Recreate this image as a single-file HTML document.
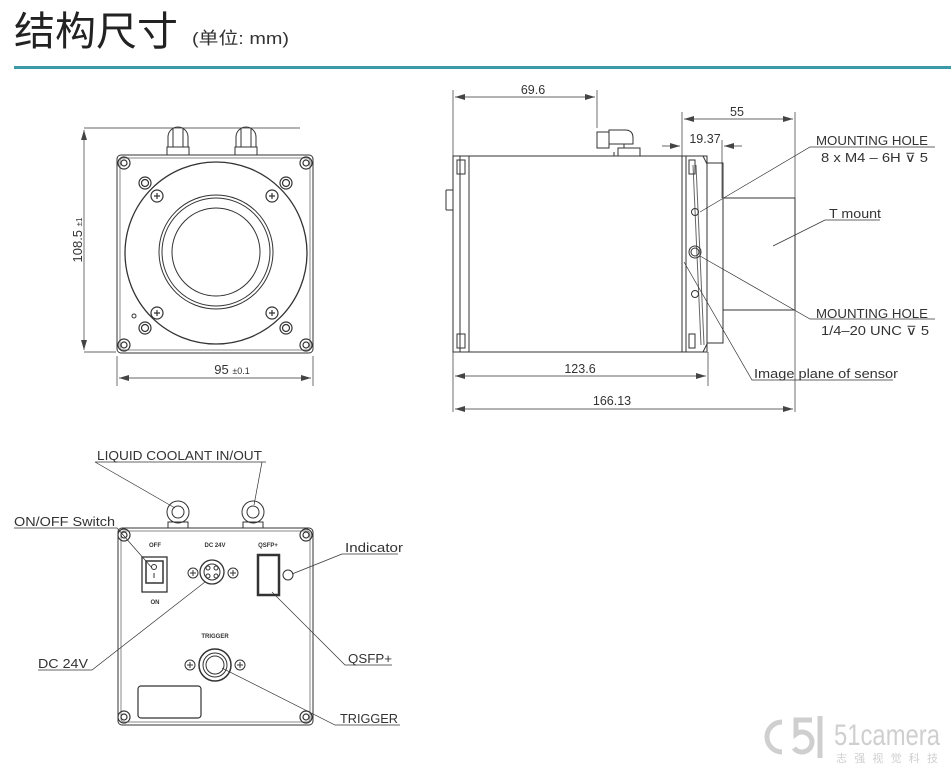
<!DOCTYPE html>
<html><head><meta charset="utf-8"><style>
body{margin:0;background:#fff;width:951px;height:773px;overflow:hidden}
svg{position:absolute;left:0;top:0}
text{font-family:"Liberation Sans","Noto Sans CJK SC",sans-serif;fill:#333}
</style></head><body>
<svg width="951" height="773" viewBox="0 0 951 773" xmlns="http://www.w3.org/2000/svg">
<defs>
<marker id="a" markerWidth="10" markerHeight="6" refX="10" refY="3" orient="auto-start-reverse" markerUnits="userSpaceOnUse"><path d="M0,0 L10,3 L0,6 z" fill="#444"/></marker>
</defs>
<text x="14" y="45" font-size="40" textLength="164" lengthAdjust="spacingAndGlyphs" style="fill:#222">结构尺寸</text>
<text x="192" y="44" font-size="17" textLength="97" lengthAdjust="spacingAndGlyphs">(单位: mm)</text>
<rect x="14" y="66" width="937" height="3" fill="#3a9aa5"/>

<g fill="none" stroke="#333" stroke-width="1">
<!-- FRONT VIEW -->
<rect x="117" y="155" width="196" height="198" rx="4"/>
<rect x="120" y="158" width="190" height="192" rx="3" stroke="#888"/>
<circle cx="216" cy="253" r="91" stroke-width="1.3"/>
<circle cx="216" cy="252" r="57"/>
<circle cx="216" cy="252" r="54"/>
<circle cx="216" cy="252" r="44"/>
<g stroke-width="1.2">
<circle cx="124" cy="163" r="6"/><circle cx="124" cy="163" r="3"/>
<circle cx="306" cy="163" r="6"/><circle cx="306" cy="163" r="3"/>
<circle cx="124" cy="345" r="6"/><circle cx="124" cy="345" r="3"/>
<circle cx="306" cy="345" r="6"/><circle cx="306" cy="345" r="3"/>
<circle cx="145" cy="183" r="6"/><circle cx="145" cy="183" r="3.5"/>
<circle cx="286" cy="183" r="6"/><circle cx="286" cy="183" r="3.5"/>
<circle cx="145" cy="328" r="6"/><circle cx="145" cy="328" r="3.5"/>
<circle cx="286" cy="328" r="6"/><circle cx="286" cy="328" r="3.5"/>
<circle cx="157" cy="196" r="6"/><path d="M154,196h6M157,193v6"/>
<circle cx="272" cy="196" r="6"/><path d="M269,196h6M272,193v6"/>
<circle cx="157" cy="313" r="6"/><path d="M154,313h6M157,310v6"/>
<circle cx="272" cy="313" r="6"/><path d="M269,313h6M272,310v6"/>
</g>
<circle cx="134" cy="316" r="2"/>
<!-- fittings top -->
<path d="M167,155v-8h22v8M168,147v-10a10,10 0 0 1 20,0v10M173,147v-18M183,147v-18"/>
<path d="M235,155v-8h22v8M236,147v-10a10,10 0 0 1 20,0v10M241,147v-18M251,147v-18"/>
<!-- dims -->
<path d="M84,128H300M84,352H116" stroke-width="0.7"/>
<path d="M84,130V350" stroke-width="0.7" marker-start="url(#a)" marker-end="url(#a)"/>
<path d="M117,356V386M313,356V386" stroke-width="0.7"/>
<path d="M119,378H311" stroke-width="0.7" marker-start="url(#a)" marker-end="url(#a)"/>

<!-- SIDE VIEW -->
<rect x="453" y="156" width="254" height="196"/>
<path d="M469,156V352M686,156V352M682,156V352M460,156V352"/>
<path d="M686,156h17l4,8v180l-4,8h-17"/>
<rect x="707" y="163" width="16" height="180"/>
<rect x="723" y="198" width="72" height="112"/>
<path d="M446,190h7M446,210h7M446,190v20" />
<path d="M693,165l8,180M696,165l8,180" stroke="#666"/>
<path d="M457,160h8v14h-8zM457,334h8v14h-8zM689,160h6v14h-6zM689,334h6v14h-6z"/>
<circle cx="695" cy="212" r="3.5"/>
<circle cx="695" cy="252" r="6"/><circle cx="695" cy="252" r="4"/>
<circle cx="695" cy="294" r="3.5"/>
<path d="M682,240V300" stroke-dasharray="6,3"/>
<!-- connector -->
<path d="M597,148v-16h12v16zM609,130h16q8,0 8,8v6h-24zM624,144v4M618,148v8h22v-8zM614,156v-4"/>
<!-- dims side -->
<path d="M453,90V412M597,90V128M682,112V156M795,112V412M722,140V198M708,352V386" stroke-width="0.7"/>
<path d="M455,97H595" stroke-width="0.7" marker-start="url(#a)" marker-end="url(#a)"/>
<path d="M684,119H793" stroke-width="0.7" marker-start="url(#a)" marker-end="url(#a)"/>
<path d="M662,146H680" stroke-width="0.7" marker-end="url(#a)"/>
<path d="M742,146H724" stroke-width="0.7" marker-end="url(#a)"/>
<path d="M455,376H706" stroke-width="0.7" marker-start="url(#a)" marker-end="url(#a)"/>
<path d="M455,409H793" stroke-width="0.7" marker-start="url(#a)" marker-end="url(#a)"/>
<!-- leaders side -->
<path d="M935,147H810L700,212M880,220H825L773,246M935,319H810L700,256M893,380H752L684,262" stroke-width="0.7"/>

<!-- BACK VIEW -->
<rect x="118" y="528" width="195" height="197" rx="4"/>
<rect x="121" y="531" width="189" height="191" rx="3" stroke="#888"/>
<g stroke-width="1.2">
<circle cx="124" cy="535" r="6"/><circle cx="124" cy="535" r="3"/>
<circle cx="306" cy="535" r="6"/><circle cx="306" cy="535" r="3"/>
<circle cx="124" cy="717" r="6"/><circle cx="124" cy="717" r="3"/>
<circle cx="306" cy="717" r="6"/><circle cx="306" cy="717" r="3"/>
</g>
<circle cx="178" cy="512" r="11"/><circle cx="178" cy="512" r="6"/>
<circle cx="253" cy="512" r="11"/><circle cx="253" cy="512" r="6"/>
<path d="M168,528v-6h20v6M243,528v-6h20v6"/>
<rect x="142" y="557" width="25" height="35" stroke-width="1.3"/>
<rect x="146" y="561" width="17" height="22" stroke-width="1.5"/>
<circle cx="154" cy="567" r="2.5"/><path d="M154,573v5"/>
<circle cx="212" cy="572" r="12" stroke-width="1.3"/><circle cx="212" cy="572" r="8"/>
<circle cx="208" cy="568" r="2"/><circle cx="216" cy="568" r="2"/><circle cx="208" cy="576" r="2"/><circle cx="216" cy="576" r="2"/>
<circle cx="193" cy="573" r="5"/><path d="M190,573h6M193,570v6"/>
<circle cx="233" cy="573" r="5"/><path d="M230,573h6M233,570v6"/>
<rect x="258" y="555" width="21" height="40" stroke-width="2.5"/>
<circle cx="288" cy="575" r="5"/>
<circle cx="215" cy="665" r="16" stroke-width="1.5"/><circle cx="215" cy="665" r="12"/><circle cx="215" cy="665" r="9"/>
<circle cx="190" cy="665" r="5"/><path d="M187,665h6M190,662v6"/>
<circle cx="240" cy="665" r="5"/><path d="M237,665h6M240,662v6"/>
<rect x="138" y="686" width="63" height="32" rx="3" stroke-width="1.2"/>
<path d="M95,462H266M95,462L175,508M262,462L254,505M14,528H117L152,568M398,554H342L292,574M38,670H92L205,582M392,665H345L272,592M400,725H335L222,668" stroke-width="0.7"/>
</g>

<g font-size="12.5">
<text x="82" y="240" transform="rotate(-90 82 240)" text-anchor="middle" font-size="13">108.5 <tspan font-size="8">±1</tspan></text>
<text x="232" y="374" text-anchor="middle" font-size="13">95 <tspan font-size="9">±0.1</tspan></text>
<text x="533" y="94" text-anchor="middle">69.6</text>
<text x="737" y="116" text-anchor="middle">55</text>
<text x="705" y="143" text-anchor="middle">19.37</text>
<text x="580" y="373" text-anchor="middle">123.6</text>
<text x="612" y="405" text-anchor="middle">166.13</text>
<text x="816" y="145" textLength="112" lengthAdjust="spacingAndGlyphs">MOUNTING HOLE</text>
<text x="821" y="162" textLength="107" lengthAdjust="spacingAndGlyphs">8 x  M4 – 6H ⊽ 5</text>
<text x="829" y="218" textLength="52" lengthAdjust="spacingAndGlyphs">T mount</text>
<text x="816" y="318" textLength="112" lengthAdjust="spacingAndGlyphs">MOUNTING HOLE</text>
<text x="821" y="335" textLength="108" lengthAdjust="spacingAndGlyphs">1/4–20 UNC  ⊽ 5</text>
<text x="754" y="378" textLength="144" lengthAdjust="spacingAndGlyphs">Image plane of sensor</text>
<text x="97" y="460" textLength="165" lengthAdjust="spacingAndGlyphs">LIQUID COOLANT IN/OUT</text>
<text x="14" y="526" textLength="101" lengthAdjust="spacingAndGlyphs">ON/OFF Switch</text>
<text x="345" y="552" textLength="58" lengthAdjust="spacingAndGlyphs">Indicator</text>
<text x="38" y="668" textLength="50" lengthAdjust="spacingAndGlyphs">DC 24V</text>
<text x="348" y="663" textLength="44" lengthAdjust="spacingAndGlyphs">QSFP+</text>
<text x="340" y="723" textLength="58" lengthAdjust="spacingAndGlyphs">TRIGGER</text>
</g>
<g font-size="6" font-weight="bold" text-anchor="middle">
<text x="155" y="547">OFF</text><text x="155" y="604">ON</text>
<text x="215" y="547">DC 24V</text><text x="268" y="547">QSFP+</text>
<text x="215" y="638">TRIGGER</text>
</g>
<!-- logo -->
<g fill="none" stroke="#cfcfcf" stroke-width="5">
<path d="M782,722a14,14 0 1 0 0,30"/>
<path d="M812,720h-16v14a10,10 0 1 1 -2,14"/>
<path d="M820,716v42"/>
</g>
<text x="834" y="745" font-size="30" textLength="106" lengthAdjust="spacingAndGlyphs" style="fill:#cfcfcf">51camera</text>
<text x="836" y="762" font-size="11" textLength="102" lengthAdjust="spacing" style="fill:#cfcfcf">志强视觉科技</text>
</svg>
</body></html>
